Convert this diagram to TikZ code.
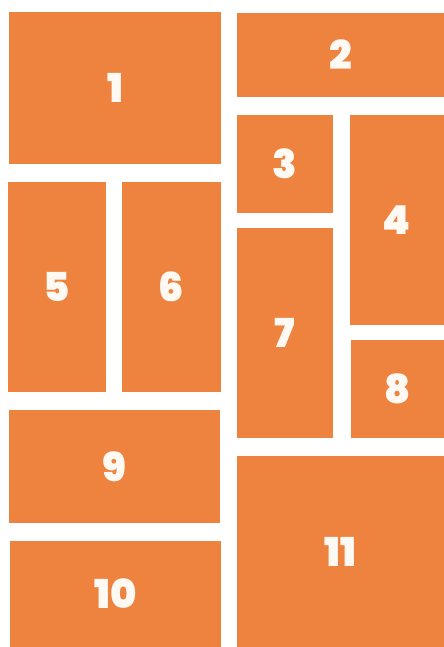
\documentclass[tikz,border=0pt]{standalone}
\usepackage{fontspec}
\newfontfamily\numfont{Poppins}[UprightFont={* Black}]
\definecolor{tile}{HTML}{EE8340}
\definecolor{numcol}{HTML}{FFF9F4}
\begin{document}
\begin{tikzpicture}[x=1bp,y=-1bp,
  tilebox/.style={fill=tile,draw=none,inner sep=0pt,text=numcol,font=\numfont\fontsize{40}{40}\selectfont}]
\useasboundingbox (0,0) rectangle (444,647);
\fill[white] (0,0) rectangle (444,647);
\newcommand\tilerect[5]{%
  \node[tilebox,minimum width={(#4-#2)*1bp},minimum height={(#5-#3)*1bp}] (t#1) at ({(#2+#4)/2},{(#3+#5)/2}) {#1};}
\tilerect{1}{9}{12}{221}{163.7}
\tilerect{2}{237}{13}{444}{97}
\tilerect{3}{237}{115}{333}{213}
\tilerect{4}{350}{115}{444}{325}
\tilerect{5}{8}{182}{106}{391.7}
\tilerect{6}{122}{182}{221}{391.7}
\tilerect{7}{237}{228}{333}{437.7}
\tilerect{8}{351}{340}{444}{437.7}
\tilerect{9}{9}{410}{220}{522.7}
\tilerect{10}{10}{541}{221}{646.7}
\tilerect{11}{237}{456}{444}{647}
\end{tikzpicture}
\end{document}
